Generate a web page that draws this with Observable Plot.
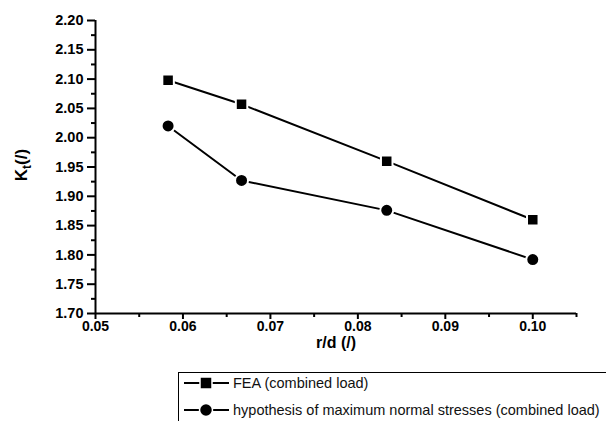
<!DOCTYPE html>
<html>
<head>
<meta charset="utf-8">
<script src="https://cdn.jsdelivr.net/npm/d3@7"></script>
<script src="https://cdn.jsdelivr.net/npm/@observablehq/plot@0.6"></script>
<style>
  body { margin: 0; background: #fff; font-family: "Liberation Sans", Arial, sans-serif; }
  #chart { width: 606px; height: 421px; overflow: hidden; position: relative; }
  .legend { margin-left: 178px; width: 428px; height: 49px; border-top: 1.5px solid #000; border-left: 1.5px solid #000; box-sizing: border-box; padding-top: 0px; }
  .row { display: flex; align-items: center; height: 20px; font-size: 14.5px; color: #111; white-space: nowrap; }
  .row + .row { margin-top: 7px; }
  .row svg { flex: none; margin-right: 2px; }
</style>
</head>
<body>
<div id="chart"></div>
<script>
const rd = [0.0583, 0.0667, 0.0833, 0.1];
const fea = [2.098, 2.057, 1.960, 1.860];
const hyp = [2.020, 1.927, 1.876, 1.792];
const seriesNames = ["FEA (combined load)", "hypothesis of maximum normal stresses (combined load)"];
const seriesSymbols = ["square", "circle"];
const xTicks = [0.05, 0.06, 0.07, 0.08, 0.09, 0.10];
const xMinor = [0.055, 0.065, 0.075, 0.085, 0.095, 0.105];
const yTicks = [1.70, 1.75, 1.80, 1.85, 1.90, 1.95, 2.00, 2.05, 2.10, 2.15, 2.20];
const yMinor = [1.725, 1.775, 1.825, 1.875, 1.925, 1.975, 2.025, 2.075, 2.125, 2.175];
const xLabel = "r/d (/)";

const data = [];
[fea, hyp].forEach((vals, s) => vals.forEach((v, i) => data.push({series: seriesNames[s], sym: seriesSymbols[s], x: rd[i], y: v})));

const plot = Plot.plot({
  width: 606,
  height: 372,
  marginLeft: 95,
  marginRight: 30,
  marginTop: 20,
  marginBottom: 59,
  style: {fontFamily: "'Liberation Sans', Arial, sans-serif", background: "#fff", color: "#000"},
  x: {domain: [0.05, 0.105]},
  y: {domain: [1.70, 2.20]},
  marks: [
    Plot.axisX({ticks: xTicks, tickFormat: d3.format(".2f"), tickSize: 6, tickPadding: 2, strokeWidth: 2, fontSize: 14, fontWeight: "bold", label: null}),
    Plot.axisX({ticks: xMinor, tickFormat: () => "", tickSize: 4, strokeWidth: 2, label: null}),
    Plot.axisY({ticks: yTicks, tickFormat: d3.format(".2f"), tickSize: 8, tickPadding: 4, strokeWidth: 2, fontSize: 14.5, fontWeight: "bold", label: null}),
    Plot.axisY({ticks: yMinor, tickFormat: () => "", tickSize: 4, strokeWidth: 2, label: null}),
    Plot.ruleY([1.70], {strokeWidth: 2}),
    Plot.ruleX([0.05], {strokeWidth: 2}),
    Plot.line(data, {x: "x", y: "y", z: "series", stroke: "#000", strokeWidth: 2}),
    Plot.dot(data, {x: "x", y: "y", symbol: "sym", r: 6.5, fill: "#000", stroke: "#fff", strokeWidth: 2}),
    Plot.text([xLabel], {text: d => d, frameAnchor: "bottom", dy: 34, fontSize: 16, fontWeight: "bold"})
  ],
  symbol: {domain: seriesSymbols, range: ["square", "circle"]}
});

document.getElementById("chart").appendChild(plot);

// y-axis title with subscript
const svg = d3.select(plot);
const yl = svg.append("text")
  .attr("transform", "translate(27,165) rotate(-90)")
  .attr("text-anchor", "middle")
  .attr("font-size", 17)
  .attr("font-weight", "bold")
  .attr("font-family", "'Liberation Sans', Arial, sans-serif")
  .attr("fill", "#000");
yl.append("tspan").text("K");
yl.append("tspan").attr("font-size", 12).attr("dy", 4).text("t");
yl.append("tspan").attr("dy", -4).text("(/)");

// legend below the plot
const legend = d3.select("#chart").append("div").attr("class", "legend");
seriesNames.forEach((name, i) => {
  const row = legend.append("div").attr("class", "row");
  const sw = row.append("svg").attr("width", 52).attr("height", 20);
  sw.append("line").attr("x1", 5).attr("x2", 50).attr("y1", 10).attr("y2", 10).attr("stroke", "#000").attr("stroke-width", 2);
  if (seriesSymbols[i] === "square") {
    sw.append("rect").attr("x", 21).attr("y", 4).attr("width", 12).attr("height", 12).attr("fill", "#000").attr("stroke", "#fff").attr("stroke-width", 1.5);
  } else {
    sw.append("circle").attr("cx", 27).attr("cy", 10).attr("r", 6.5).attr("fill", "#000").attr("stroke", "#fff").attr("stroke-width", 1.5);
  }
  row.append("span").text(name);
});
</script>
</body>
</html>
